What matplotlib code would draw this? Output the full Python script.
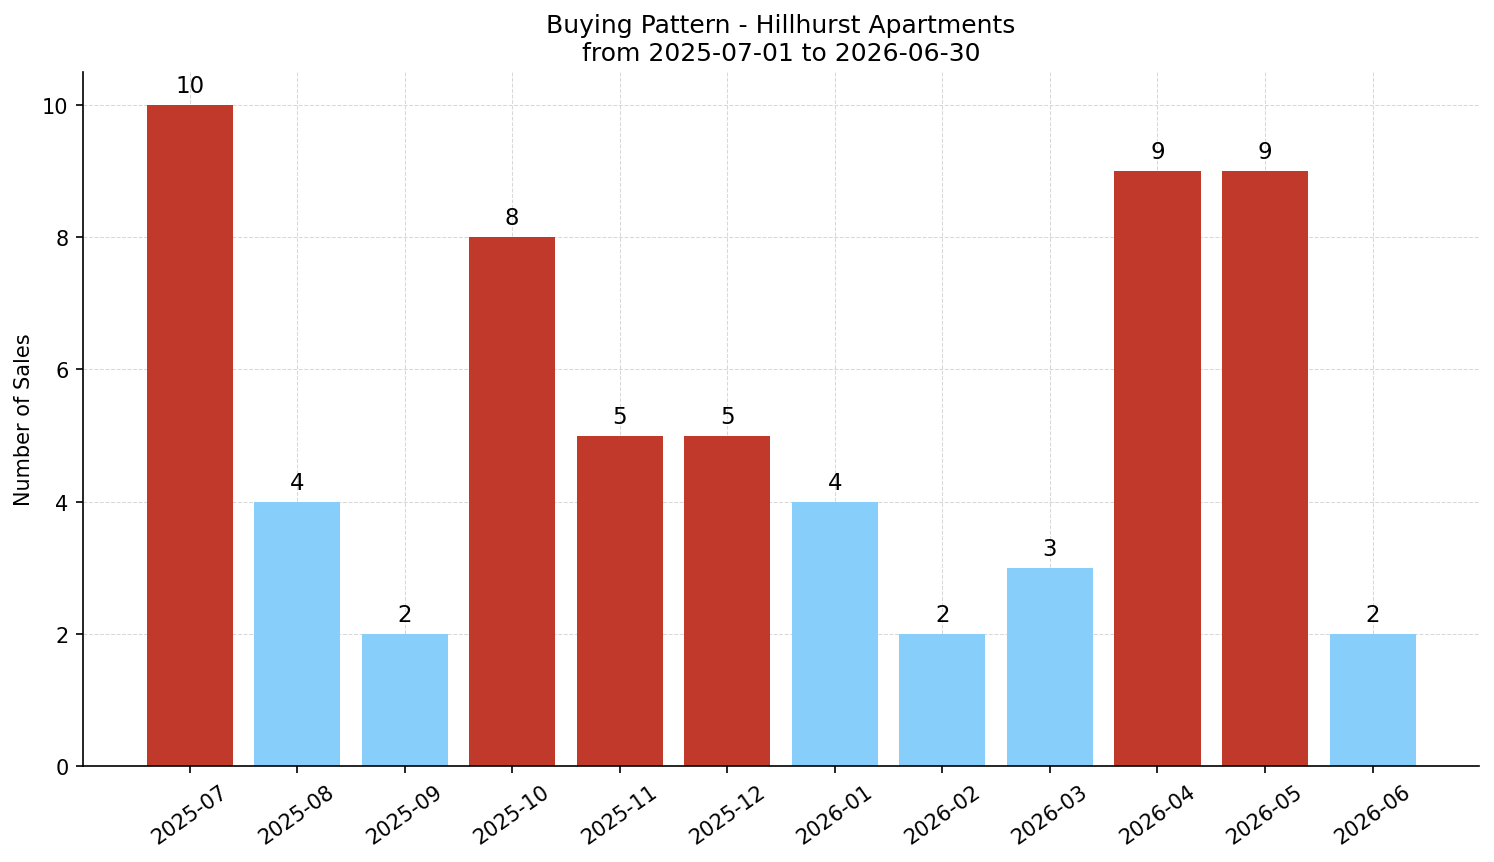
import matplotlib
matplotlib.use('Agg')
import matplotlib.pyplot as plt

months = ['2025-07', '2025-08', '2025-09', '2025-10', '2025-11', '2025-12',
          '2026-01', '2026-02', '2026-03', '2026-04', '2026-05', '2026-06']
sales = [10, 4, 2, 8, 5, 5, 4, 2, 3, 9, 9, 2]

# high months in red, low months in light blue
colors = ['#c0392b' if s >= 5 else '#87cefa' for s in sales]

fig, ax = plt.subplots(figsize=(9.96, 5.753), dpi=150)
fig.subplots_adjust(left=0.0556, right=0.99, top=0.9154, bottom=0.1112)

x = range(len(months))
bars = ax.bar(x, sales, width=0.8, color=colors, zorder=2)

for b, s in zip(bars, sales):
    ax.text(b.get_x() + b.get_width() / 2, s + 0.12, str(s),
            ha='center', va='bottom', fontsize=11)

ax.set_xticks(list(x))
ax.set_xticklabels(months, rotation=35, fontsize=10)
ax.tick_params(axis='y', labelsize=10)
ax.set_ylabel('Number of Sales', fontsize=10)
ax.set_title('Buying Pattern - Hillhurst Apartments\nfrom 2025-07-01 to 2026-06-30', fontsize=12)

ax.grid(True, linestyle='--', color='#d8d8d8', linewidth=0.5, zorder=0)
ax.set_axisbelow(True)
ax.spines['top'].set_visible(False)
ax.spines['right'].set_visible(False)

plt.savefig('out.png', dpi=150)
